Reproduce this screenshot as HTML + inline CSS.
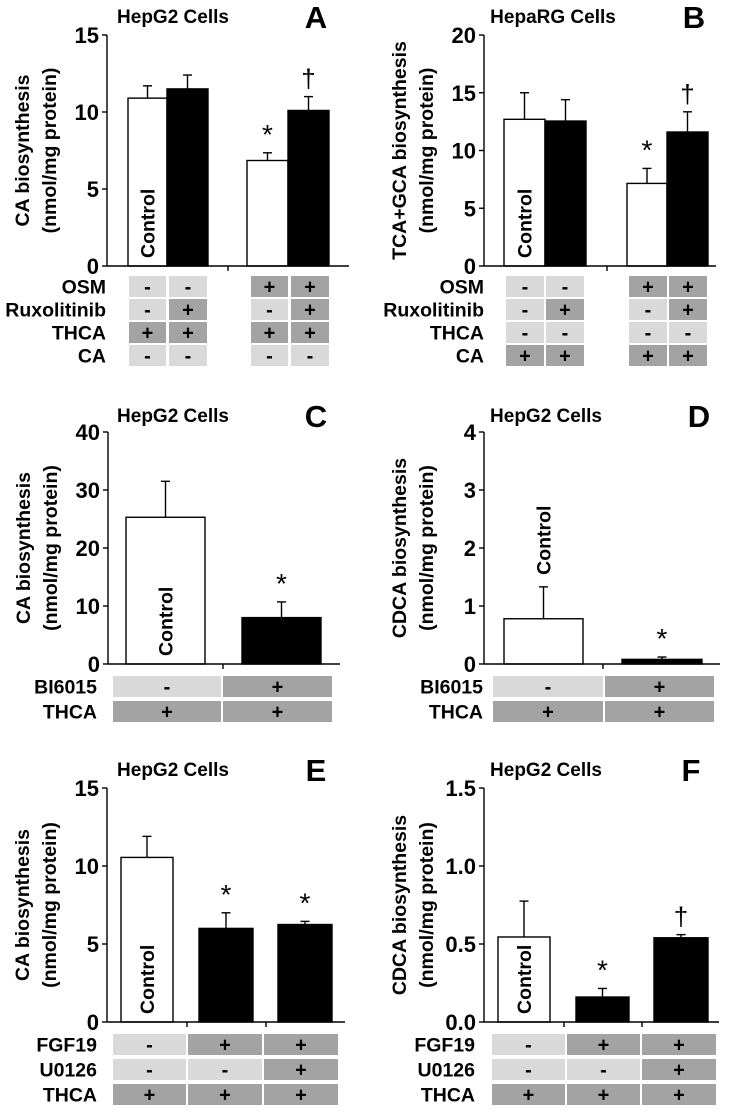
<!DOCTYPE html>
<html><head><meta charset="utf-8">
<style>
html,body{margin:0;padding:0;background:#fff;}
svg{display:block;font-family:"Liberation Sans",Arial,sans-serif;font-weight:bold;}
</style></head>
<body>
<svg id="fig" width="733" height="1113" viewBox="0 0 733 1113" xmlns="http://www.w3.org/2000/svg"></svg>
<script>
// ---- data ----
const aValues=[10.9,11.5,6.85,10.1];
const aErrors=[0.8,0.9,0.5,0.9];
const aMarks=["","","*","†"];
const aTicks=[0,5,10,15];
const aRowLabels=["OSM","Ruxolitinib","THCA","CA"];
const aRows=[["-","-","+","+"],["-","+","-","+"],["+","+","+","+"],["-","-","-","-"]];

const bValues=[12.7,12.55,7.15,11.6];
const bErrors=[2.3,1.85,1.3,1.75];
const bMarks=["","","*","†"];
const bTicks=[0,5,10,15,20];
const bRowLabels=["OSM","Ruxolitinib","THCA","CA"];
const bRows=[["-","-","+","+"],["-","+","-","+"],["-","-","-","-"],["+","+","+","+"]];

const cValues=[25.3,8.0];
const cErrors=[6.2,2.7];
const cMarks=["","*"];
const cTicks=[0,10,20,30,40];
const cRowLabels=["BI6015","THCA"];
const cRows=[["-","+"],["+","+"]];

const dValues=[0.78,0.08];
const dErrors=[0.55,0.04];
const dMarks=["","*"];
const dTicks=[0,1,2,3,4];
const dRowLabels=["BI6015","THCA"];
const dRows=[["-","+"],["+","+"]];

const eValues=[10.55,6.0,6.25];
const eErrors=[1.35,1.0,0.2];
const eMarks=["","*","*"];
const eTicks=[0,5,10,15];
const eRowLabels=["FGF19","U0126","THCA"];
const eRows=[["-","+","+"],["-","-","+"],["+","+","+"]];

const fValues=[0.545,0.16,0.54];
const fErrors=[0.23,0.055,0.02];
const fMarks=["","*","†"];
const fTicks=["0.0","0.5","1.0","1.5"];
const fRowLabels=["FGF19","U0126","THCA"];
const fRows=[["-","+","+"],["-","-","+"],["+","+","+"]];

const NS="http://www.w3.org/2000/svg";
const svg=document.getElementById('fig');
function mk(tag,attrs,parent,text){
  const e=document.createElementNS(NS,tag);
  for(const k in attrs)e.setAttribute(k,attrs[k]);
  if(text!==undefined)e.textContent=text;
  (parent||svg).appendChild(e);return e;
}

function panel(p){
  const g=mk('g',{});
  
  
  const vmax=parseFloat(p.ticks[p.ticks.length-1]);
  const y=v=>p.y0-(v/vmax)*(p.y0-p.yTop);
  const t=mk('text',{x:p.titleX,y:p.titleY+1,'font-size':19,'text-anchor':'middle'},g,p.title);
  
  
  const L=mk('text',{x:p.letterX,y:p.titleY+6,'font-size':31,'text-anchor':'middle'},g,p.id);
  
  
  const cy=(p.y0+p.yTop)/2;
  const yt1=mk('text',{x:0,y:0,'font-size':19.5,'text-anchor':'middle',transform:`translate(${p.axX-78},${cy}) rotate(-90)`},g,p.ytitle);
  
  
  const yt2=mk('text',{x:0,y:0,'font-size':19.5,'text-anchor':'middle',transform:`translate(${p.axX-51},${cy}) rotate(-90)`},g,'(nmol/mg protein)');
  
  
  const ya=mk('line',{x1:p.axX,y1:p.yTop,x2:p.axX,y2:p.y0,stroke:'#000','stroke-width':1.4},g);
  
  
  p.ticks.forEach(tv=>{
    const yy=y(parseFloat(tv));
    mk('line',{x1:p.axX-5,y1:yy,x2:p.axX,y2:yy,stroke:'#000','stroke-width':1.4},g);
    const tl=mk('text',{x:p.axX-8,y:yy+8,'font-size':22,'text-anchor':'end'},g,String(tv));
    
    
  });
  p.values.forEach((v,i)=>{
    const x0=p.bars[i][0],x1=p.bars[i][1],cx=(x0+x1)/2;
    const top=y(v),et=y(v+p.errors[i]);
    mk('line',{x1:cx,y1:top,x2:cx,y2:et,stroke:'#000','stroke-width':1.4},g);
    mk('line',{x1:cx-4.5,y1:et,x2:cx+4.5,y2:et,stroke:'#000','stroke-width':1.4},g);
    const r=mk('rect',{x:x0,y:top,width:x1-x0,height:p.y0-top,fill:p.fills[i],stroke:'#000','stroke-width':1.4},g);
    
    
    if(p.marks[i]){
      const isDag=p.marks[i]==='†';
      const m=mk('text',{x:cx,y:et-9,'font-size':isDag?26:28,'font-weight':'normal','text-anchor':'middle'},g,p.marks[i]);
      
      
    }
  });
  const ci=p.controlIdx||0;
  const cx=(p.bars[ci][0]+p.bars[ci][1])/2;
  const cyb=p.controlAbove?y(p.values[ci]+p.errors[ci])-12:p.y0-8;
  const cl=mk('text',{x:0,y:0,'font-size':19.5,transform:`translate(${cx+7},${cyb}) rotate(-90)`},g,'Control');
  
  
  const xa=mk('line',{x1:p.axX,y1:p.y0,x2:p.axEnd,y2:p.y0,stroke:'#000','stroke-width':1.4},g);
  
  
  p.xticks.forEach(xt=>mk('line',{x1:xt,y1:p.y0,x2:xt,y2:p.y0+5,stroke:'#000','stroke-width':1.4},g));
  p.rowLabels.forEach((lab,r)=>{
    const ry=p.rowY[r];
    const tl=mk('text',{x:p.labelX,y:ry+p.rowH/2+7,'font-size':19.5,'text-anchor':'end'},g,lab);
    
    
    p.rows[r].forEach((s,c)=>{
      const [x0,x1]=p.cells[c];
      const cell=mk('rect',{x:x0,y:ry,width:x1-x0,height:p.rowH,fill:s==='+'?'#a3a3a3':'#d9d9d9'},g);
      
      
      mk('text',{x:(x0+x1)/2,y:ry+p.rowH/2+7,'font-size':20,'text-anchor':'middle'},g,s==='-'?'-':'+');
    });
  });
}

panel({id:'A',title:'HepG2 Cells',titleX:173,titleY:22,letterX:316,ytitle:'CA biosynthesis',
  axX:107,y0:266,yTop:35,axEnd:349,xticks:[228],ticks:aTicks,values:aValues,errors:aErrors,marks:aMarks,
  bars:[[128,167],[167,208],[247,288],[288,329]],fills:['#fff','#000','#fff','#000'],
  rowLabels:aRowLabels,rows:aRows,rowY:[276,299,322,345],rowH:21,labelX:106,
  cells:[[129,166],[169,207],[251,288],[291,329]]});
panel({id:'B',title:'HepaRG Cells',titleX:553,titleY:22,letterX:694,ytitle:'TCA+GCA biosynthesis',
  axX:484,y0:266,yTop:35,axEnd:716,xticks:[607],ticks:bTicks,values:bValues,errors:bErrors,marks:bMarks,
  bars:[[504,545],[545,586],[627,667],[667,708]],fills:['#fff','#000','#fff','#000'],
  rowLabels:bRowLabels,rows:bRows,rowY:[276,299,322,345],rowH:21,labelX:484,
  cells:[[506,544],[546,584],[629,667],[669,707]]});
panel({id:'C',title:'HepG2 Cells',titleX:173,titleY:421,letterX:316,ytitle:'CA biosynthesis',
  axX:108,y0:664,yTop:432,axEnd:340,xticks:[223],ticks:cTicks,values:cValues,errors:cErrors,marks:cMarks,
  bars:[[126,205],[242,321]],fills:['#fff','#000'],
  rowLabels:cRowLabels,rows:cRows,rowY:[676,701],rowH:21,labelX:97,
  cells:[[113,221],[223,332]]});
panel({id:'D',title:'HepG2 Cells',titleX:546,titleY:421,letterX:699,ytitle:'CDCA biosynthesis',
  axX:484,y0:664,yTop:432,axEnd:720,xticks:[603],ticks:dTicks,values:dValues,errors:dErrors,marks:dMarks,
  bars:[[504,583],[622,702]],fills:['#fff','#000'],controlAbove:true,
  rowLabels:dRowLabels,rows:dRows,rowY:[676,701],rowH:21,labelX:483,
  cells:[[493,603],[605,714]]});
panel({id:'E',title:'HepG2 Cells',titleX:173,titleY:775,letterX:316,ytitle:'CA biosynthesis',
  axX:107,y0:1022,yTop:788,axEnd:345,xticks:[187,266],ticks:eTicks,values:eValues,errors:eErrors,marks:eMarks,
  bars:[[121,173],[199,253],[278,332]],fills:['#fff','#000','#000'],
  rowLabels:eRowLabels,rows:eRows,rowY:[1034,1059,1084],rowH:21,labelX:97,
  cells:[[113,186],[188,262],[264,338]]});
panel({id:'F',title:'HepG2 Cells',titleX:546,titleY:775,letterX:691,ytitle:'CDCA biosynthesis',
  axX:484,y0:1022,yTop:788,axEnd:719,xticks:[564,642],ticks:fTicks,values:fValues,errors:fErrors,marks:fMarks,
  bars:[[498,550],[576,629],[654,708]],fills:['#fff','#000','#000'],
  rowLabels:fRowLabels,rows:fRows,rowY:[1034,1059,1084],rowH:21,labelX:475,
  cells:[[492,565],[567,640],[642,716]]});
</script>
</body></html>
